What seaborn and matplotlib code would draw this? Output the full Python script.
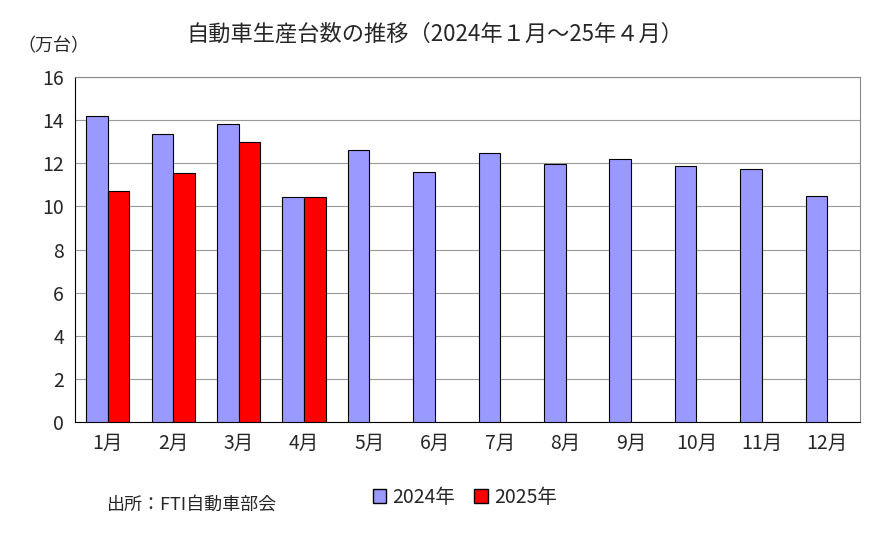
import matplotlib
matplotlib.use("Agg")
import matplotlib.pyplot as plt
import seaborn as sns
import pandas as pd
import numpy as np
from matplotlib.patches import Patch

months = ["1月","2月","3月","4月","5月","6月","7月","8月","9月","10月","11月","12月"]
v2024 = [14.2,13.37,13.83,10.44,12.62,11.6,12.48,11.97,12.2,11.87,11.73,10.48]
v2025 = [10.71,11.56,12.99,10.44] + [np.nan]*8
series = ["2024年","2025年"]
colors = ["#9999FF","#FF0000"]

sns.set_style("white")
plt.rcParams['font.family'] = ['Noto Sans CJK JP','DejaVu Sans']

df = pd.DataFrame({"month": months*2, "value": v2024+v2025,
                   "series": [series[0]]*12 + [series[1]]*12})

fig = plt.figure(figsize=(8.88,5.39), dpi=100)
ax = fig.add_axes([0.0845,0.217,0.884,0.64])
sns.barplot(data=df, x="month", y="value", hue="series", palette=colors, saturation=1,
            width=0.66, edgecolor="black", linewidth=0.8, ax=ax, legend=False, zorder=3)
ax.set_ylim(0,16)
ax.set_yticks(range(0,17,2))
ax.set_xlim(-0.5,11.5)
ax.yaxis.grid(True, color="#999999", linewidth=0.8, zorder=0)
ax.set_axisbelow(True)
ax.set_xlabel(""); ax.set_ylabel("")
for s in ax.spines.values():
    s.set_color("#888888"); s.set_linewidth(0.8)
ax.spines["left"].set_color("black"); ax.spines["bottom"].set_color("black")
ax.tick_params(axis="both", labelsize=14, length=0, pad=8)
fig.text(0.02,0.905,"（万台）", fontsize=13)
fig.text(0.49,0.925,"自動車生産台数の推移（2024年１月～25年４月）", fontsize=16, ha="center")
fig.text(0.12,0.055,"出所：FTI自動車部会", fontsize=13)
handles=[Patch(facecolor=c, edgecolor="black", label=l) for c,l in zip(colors,series)]
fig.legend(handles=handles, loc="lower left", bbox_to_anchor=(0.4,0.025), ncol=2,
           frameon=False, fontsize=14, handlelength=0.7, handleheight=0.7,
           handletextpad=0.3, columnspacing=1.0)
fig.savefig("out.png", dpi=100)
